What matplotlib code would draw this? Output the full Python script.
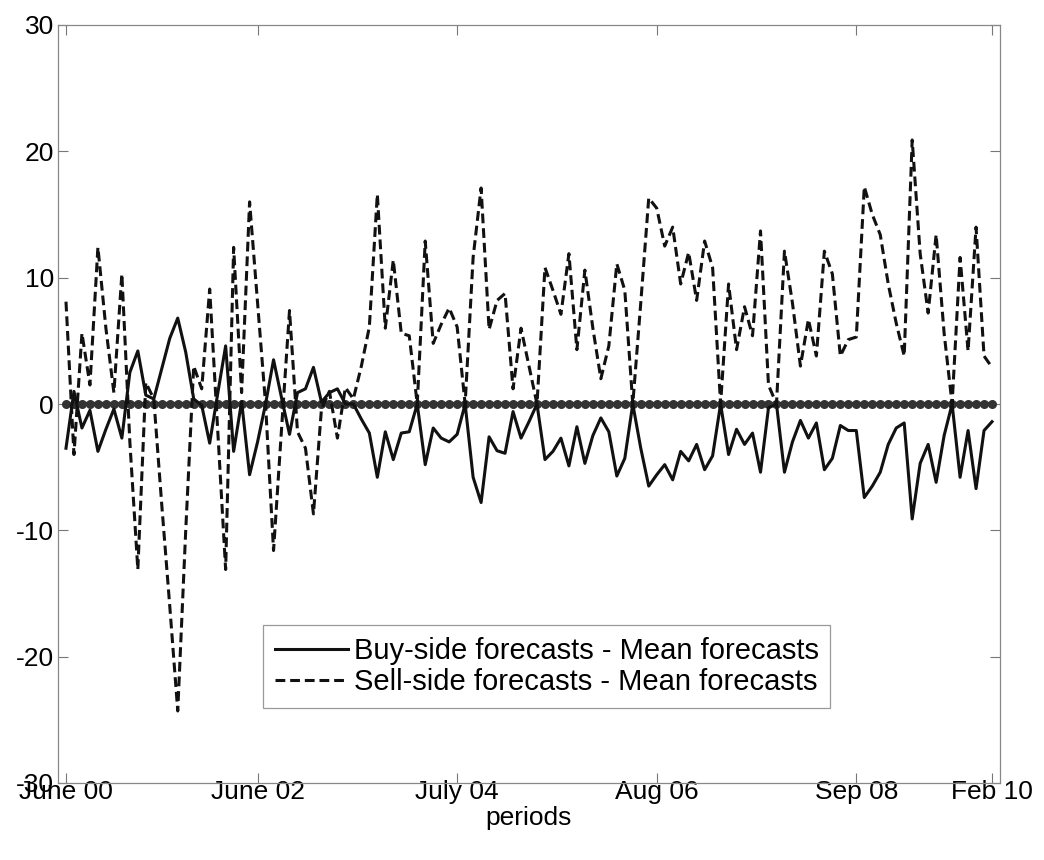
import matplotlib
matplotlib.use("Agg")
import matplotlib.pyplot as plt
import numpy as np

plt.rcParams['font.family'] = ['Liberation Sans', 'DejaVu Sans']
plt.rcParams['axes.unicode_minus'] = False

# Buy-side forecasts minus mean forecasts (monthly, June 2000 .. Feb 2010)
buy = [
    -3.5, 1.0, -1.9, -0.5, -3.75, -2.0, -0.4, -2.7, 2.5, 4.2,
    0.7, 0.4, 2.8, 5.2, 6.8, 4.1, 0.4, -0.1, -3.1, 0.8,
    4.6, -3.75, 0.2, -5.6, -3.0, 0.0, 3.5, 0.5, -2.4, 0.9,
    1.2, 2.9, 0.15, 0.9, 1.2, 0.0, 0.0, -1.2, -2.3, -5.8,
    -2.2, -4.4, -2.3, -2.2, 0.0, -4.8, -1.9, -2.7, -3.0, -2.4,
    0.0, -5.8, -7.8, -2.6, -3.7, -3.9, -0.6, -2.7, -1.4, 0.0,
    -4.4, -3.75, -2.7, -4.9, -1.8, -4.7, -2.5, -1.1, -2.2, -5.7,
    -4.3, 0.0, -3.5, -6.5, -5.6, -4.8, -6.0, -3.75, -4.5, -3.2,
    -5.2, -4.1, 0.0, -4.0, -2.0, -3.2, -2.3, -5.4, -0.3, 0.0,
    -5.4, -3.0, -1.3, -2.7, -1.5, -5.2, -4.3, -1.7, -2.1, -2.1,
    -7.4, -6.5, -5.4, -3.2, -1.9, -1.5, -9.1, -4.7, -3.2, -6.2,
    -2.5, 0.0, -5.8, -2.1, -6.7, -2.1, -1.4,
]

# Sell-side forecasts minus mean forecasts
sell = [
    8.1, -4.0, 5.6, 1.5, 12.4, 6.0, 0.9, 10.3, -3.0, -13.1,
    1.7, 0.4, -8.0, -16.0, -24.3, -10.0, 3.0, 1.2, 9.1, -2.0,
    -13.1, 12.4, 0.9, 16.0, 8.0, 0.0, -11.6, -2.0, 7.4, -2.2,
    -3.5, -8.7, -0.4, 1.0, -2.7, 1.3, 0.4, 3.0, 6.1, 16.6,
    6.0, 11.4, 5.6, 5.4, 0.0, 12.9, 4.8, 6.3, 7.6, 6.1,
    0.0, 11.6, 17.1, 5.9, 8.2, 8.75, 1.2, 6.0, 3.0, 0.0,
    10.8, 9.0, 7.1, 11.9, 4.3, 10.6, 6.0, 2.0, 4.6, 11.1,
    9.0, 0.0, 8.0, 16.3, 15.5, 12.5, 14.0, 9.5, 12.0, 8.2,
    12.9, 10.8, 0.0, 9.5, 4.3, 7.7, 5.4, 13.7, 1.5, 0.0,
    12.1, 8.0, 3.0, 6.7, 3.8, 12.1, 10.3, 3.8, 5.1, 5.3,
    17.2, 15.0, 13.4, 9.5, 6.4, 3.8, 20.9, 11.9, 7.2, 13.4,
    5.6, 0.0, 11.6, 4.2, 14.0, 3.8, 2.9,
]

zero_line = [0.0] * len(buy)

tick_pos = [0, 24, 49, 74, 99, 116]
tick_labels = ['June 00', 'June 02', 'July 04', 'Aug 06', 'Sep 08', 'Feb 10']
y_ticks = [-30, -20, -10, 0, 10, 20, 30]

x = np.arange(len(buy))

fig = plt.figure(figsize=(10.44, 8.60), dpi=100)
ax = fig.add_axes([58/1044, 1 - 783/860, 942/1044, 758/860])

ax.plot(x, zero_line, color='#333333', lw=3, marker='o', markersize=6.5,
        markeredgewidth=0, zorder=2)
l1, = ax.plot(x, buy, color='#111111', lw=2.2, zorder=3,
              label='Buy-side forecasts - Mean forecasts')
l2, = ax.plot(x, sell, color='#111111', lw=2.2, linestyle=(0, (3.2, 1.6)),
              zorder=3, label='Sell-side forecasts - Mean forecasts')

ax.set_xlim(-1, 117)
ax.set_ylim(-30, 30)
ax.set_xticks(tick_pos)
ax.set_xticklabels(tick_labels)
ax.set_yticks(y_ticks)
ax.tick_params(direction='in', length=7, width=0.8, color='#777777',
               top=True, right=True, labelsize=19)
ax.tick_params(axis='x', pad=-2)
ax.tick_params(axis='y', pad=3)
for s in ax.spines.values():
    s.set_color('#888888')
    s.set_linewidth(0.9)
ax.set_xlabel('periods', fontsize=19, labelpad=1)

leg = ax.legend(handles=[l1, l2], loc='lower left',
                bbox_to_anchor=(0.218, 0.099), fontsize=21, frameon=True,
                fancybox=False, edgecolor='#999999', framealpha=1,
                handlelength=2.5, handletextpad=0.2, borderpad=0.4,
                labelspacing=0.12, borderaxespad=0)
leg.get_frame().set_linewidth(0.9)

fig.savefig('out.png', dpi=100)
